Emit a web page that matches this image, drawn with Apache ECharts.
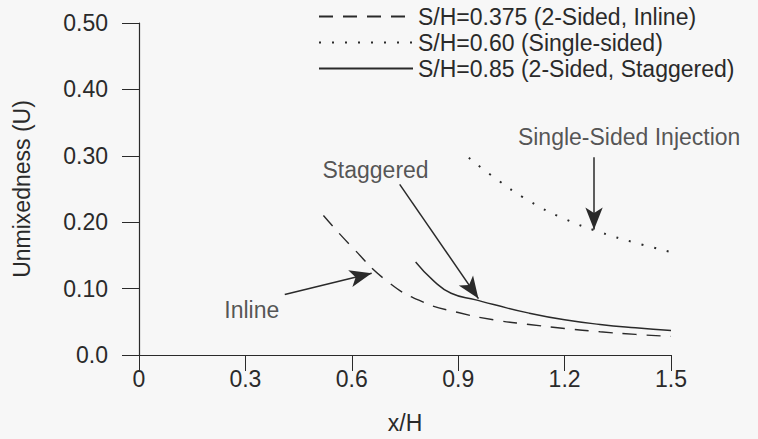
<!DOCTYPE html>
<html>
<head>
<meta charset="utf-8">
<script src="https://cdn.jsdelivr.net/npm/echarts@6/dist/echarts.min.js"></script>
<style>
  html, body { margin: 0; padding: 0; background: #f7f7f7; }
  #chart { width: 758px; height: 439px; }
</style>
</head>
<body>
<div id="chart"></div>
<script>
(function() {
  var ink = '#2a2a2a';
  var font = 'Liberation Sans';
  var fs = 23;

  // --- data ---
  var inlineX = [0.52, 0.6, 0.7, 0.8, 0.9, 1.0, 1.1, 1.2, 1.3, 1.4, 1.5];
  var inlineY = [0.21, 0.163, 0.111, 0.080, 0.064, 0.053, 0.046, 0.040, 0.035, 0.031, 0.028];
  var singleX = [0.93, 1.0, 1.1, 1.2, 1.3, 1.4, 1.5];
  var singleY = [0.297, 0.268, 0.232, 0.205, 0.185, 0.169, 0.155];
  var staggX = [0.78, 0.83, 0.88, 0.95, 1.0, 1.1, 1.2, 1.3, 1.4, 1.5];
  var staggY = [0.14, 0.112, 0.093, 0.083, 0.076, 0.063, 0.053, 0.046, 0.041, 0.037];
  var seriesNames = ['S/H=0.375 (2-Sided, Inline)', 'S/H=0.60 (Single-sided)', 'S/H=0.85 (2-Sided, Staggered)'];

  // annotations (data coords)
  var noteText = ['Staggered', 'Inline', 'Single-Sided Injection'];
  var noteX = [0.667, 0.318, 1.382];
  var noteY = [0.278, 0.068, 0.328];
  var arrowFrom = [[0.735, 0.257], [0.411, 0.091], [1.283, 0.298]];
  var arrowTo = [[0.957, 0.085], [0.656, 0.123], [1.283, 0.189]];

  function pairs(xs, ys) {
    return xs.map(function(x, i) { return [x, ys[i]]; });
  }

  var chart = echarts.init(document.getElementById('chart'), null, { renderer: 'svg' });
  chart.setOption({
    animation: false,
    backgroundColor: '#f7f7f7',
    textStyle: { fontFamily: font, color: ink },
    legend: {
      orient: 'vertical',
      left: 318,
      top: 5,
      padding: 0,
      itemWidth: 94,
      itemHeight: 14,
      itemGap: 3,
      data: seriesNames,
      itemStyle: { opacity: 0 },
      textStyle: { fontFamily: font, fontSize: fs, color: ink, lineHeight: 23 },
      inactiveColor: ink
    },
    grid: { left: 139, right: 87, top: 23, bottom: 81 },
    xAxis: {
      type: 'value',
      min: 0, max: 1.5, interval: 0.3,
      name: 'x/H',
      nameLocation: 'middle',
      nameGap: 56,
      nameTextStyle: { fontFamily: font, fontSize: fs, color: ink },
      axisLine: { lineStyle: { color: ink, width: 1.2 } },
      axisTick: { length: 16, lineStyle: { color: ink, width: 1 } },
      axisLabel: {
        margin: 12, fontSize: fs, color: ink, fontFamily: font,
        formatter: function(v) { return v === 0 ? '0' : v.toFixed(1); }
      },
      splitLine: { show: false }
    },
    yAxis: {
      type: 'value',
      min: 0, max: 0.5, interval: 0.1,
      name: 'Unmixedness (U)',
      nameLocation: 'middle',
      nameGap: 106,
      nameTextStyle: { fontFamily: font, fontSize: fs, color: ink },
      axisLine: { show: true, lineStyle: { color: ink, width: 1.2 } },
      axisTick: { show: true, length: 17, lineStyle: { color: ink, width: 1 } },
      axisLabel: {
        margin: 31, fontSize: fs, color: ink, fontFamily: font,
        padding: [7, 0, 0, 0],
        formatter: function(v) { return v === 0 ? '0.0' : v.toFixed(2); }
      },
      splitLine: { show: false }
    },
    series: [
      {
        name: seriesNames[0],
        type: 'line',
        smooth: true,
        symbol: 'none',
        data: pairs(inlineX, inlineY),
        lineStyle: { color: ink, width: 1.4, type: [14, 10] },
        itemStyle: { color: ink }
      },
      {
        name: seriesNames[1],
        type: 'line',
        smooth: true,
        symbol: 'none',
        data: pairs(singleX, singleY),
        lineStyle: { color: ink, width: 2, type: [2, 11] },
        itemStyle: { color: ink }
      },
      {
        name: seriesNames[2],
        type: 'line',
        smooth: true,
        symbol: 'none',
        data: pairs(staggX, staggY),
        lineStyle: { color: ink, width: 1.4, type: 'solid' },
        itemStyle: { color: ink },
        markLine: {
          silent: true,
          symbol: ['none', 'arrow'],
          symbolSize: [13, 22],
          label: { show: false },
          lineStyle: { color: ink, width: 1.5, type: 'solid' },
          emphasis: { disabled: true },
          data: arrowFrom.map(function(p, i) {
            return [{ coord: p }, { coord: arrowTo[i] }];
          })
        }
      },
      {
        name: 'notes',
        type: 'scatter',
        symbolSize: 0,
        silent: true,
        data: noteX.map(function(x, i) { return { value: [x, noteY[i]], name: noteText[i] }; }),
        label: {
          show: true,
          position: 'inside',
          formatter: function(p) { return p.name; },
          fontFamily: font,
          fontSize: fs,
          color: ink
        }
      }
    ]
  });
  window.addEventListener('resize', function() { chart.resize(); });
})();
</script>
</body>
</html>
